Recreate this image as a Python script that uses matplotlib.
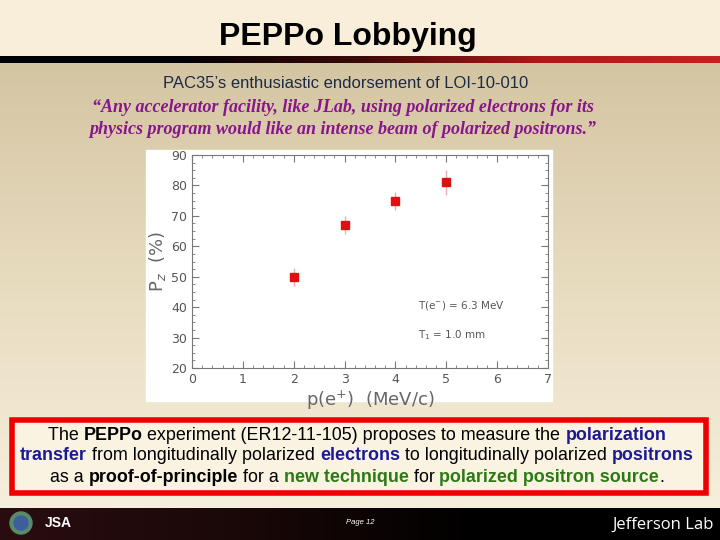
import numpy as np
import matplotlib.pyplot as plt
from matplotlib.patches import Rectangle, Circle
from matplotlib.colors import LinearSegmentedColormap

# data
momentum = [2, 3, 4, 5]            # p(e+) in MeV/c
polarization = [50, 67, 75, 81]    # P_z in %
pol_err = [3, 3, 3, 4]

x_ticks = [0, 1, 2, 3, 4, 5, 6, 7]
y_ticks = [20, 30, 40, 50, 60, 70, 80, 90]

W, H = 720, 540
fig = plt.figure(figsize=(7.2, 5.4), dpi=100)

# slide background
bg = fig.add_axes([0, 0, 1, 1])
bg.set_xlim(0, W)
bg.set_ylim(H, 0)
bg.axis('off')

body = LinearSegmentedColormap.from_list('body', ['#d4c5a2', '#e8dcc0', '#f6efdc'])
grad = np.linspace(0, 1, 256).reshape(-1, 1)
bg.imshow(grad, cmap=body, extent=[0, W, 508, 62], aspect='auto', zorder=0)
bg.add_patch(Rectangle((0, 0), W, 56, color='#f8eed9', zorder=1))

band = LinearSegmentedColormap.from_list('band', ['#000000', '#000000', '#3a0a08', '#b01818', '#c82020'])
bg.imshow(np.linspace(0, 1, 256).reshape(1, -1), cmap=band, extent=[0, W, 63, 56],
          aspect='auto', zorder=2)

foot = LinearSegmentedColormap.from_list('foot', ['#2a0d10', '#1a0808', '#000000', '#000000'])
bg.imshow(np.linspace(0, 1, 256).reshape(1, -1), cmap=foot, extent=[0, W, H, 508],
          aspect='auto', zorder=2)
bg.add_patch(Circle((21, 523), 11, color='#5a8a6a', zorder=3))
bg.add_patch(Circle((21, 523), 7, color='#3c5f9c', zorder=4))
bg.text(45, 523, 'JSA', color='white', fontsize=10, fontweight='bold', va='center',
        family='Liberation Sans', zorder=4)
bg.text(360, 523, 'Page 12', color='white', fontsize=5.5, style='italic', ha='center',
        va='center', family='Liberation Sans', zorder=4)
bg.text(714, 525, 'Jefferson Lab', color='white', fontsize=12, ha='right', va='center',
        family='Open Sans', zorder=4)

# titles
bg.text(348, 37, 'PEPPo Lobbying', fontsize=23, fontweight='bold', ha='center', va='center',
        family='Liberation Sans', color='black', zorder=3)
bg.text(346, 84, 'PAC35\u2019s enthusiastic endorsement of LOI-10-010', fontsize=12,
        ha='center', va='center', family='Liberation Sans', color='#1c2a48', zorder=3)
bg.text(343, 108, '\u201cAny accelerator facility, like JLab, using polarized electrons for its',
        fontsize=13, ha='center', va='center', family='Liberation Serif', style='italic',
        fontweight='bold', color='#86168a', zorder=3)
bg.text(343, 129, 'physics program would like an intense beam of polarized positrons.\u201d',
        fontsize=13, ha='center', va='center', family='Liberation Serif', style='italic',
        fontweight='bold', color='#86168a', zorder=3)

# white panel behind the plot
bg.add_patch(Rectangle((146, 150), 406, 251, color='white', zorder=3))

# red box with mixed-colour text
bg.add_patch(Rectangle((12, 420), 694, 73, facecolor='#fbf3e2', edgecolor='#ee0000',
                       linewidth=4, zorder=3))

navy = '#1a1a96'
green = '#2a7a16'
lines = [
    [('The ', 'normal', 'black'), ('PEPPo', 'bold', 'black'),
     (' experiment (ER12-11-105) proposes to measure the ', 'normal', 'black'),
     ('polarization', 'bold', navy)],
    [('transfer', 'bold', navy), (' from longitudinally polarized ', 'normal', 'black'),
     ('electrons', 'bold', navy), (' to longitudinally polarized ', 'normal', 'black'),
     ('positrons', 'bold', navy)],
    [('as a ', 'normal', 'black'), ('proof-of-principle', 'bold', 'black'),
     (' for a ', 'normal', 'black'), ('new technique', 'bold', green),
     (' for ', 'normal', 'black'), ('polarized positron source', 'bold', green),
     ('.', 'normal', 'black')],
]
line_y = [435, 456, 477]

fig.canvas.draw()
renderer = fig.canvas.get_renderer()
inv = bg.transData.inverted()
for parts, yy in zip(lines, line_y):
    texts = []
    for s, wt, col in parts:
        t = bg.text(0, yy, s, fontsize=12.9, fontweight=wt, color=col, va='center',
                    family='Liberation Sans', zorder=4)
        texts.append(t)
    widths = []
    for t in texts:
        ext = t.get_window_extent(renderer)
        x0 = inv.transform((ext.x0, 0))[0]
        x1 = inv.transform((ext.x1, 0))[0]
        widths.append(x1 - x0)
    x = 357 - sum(widths) / 2
    for t, w in zip(texts, widths):
        t.set_x(x)
        x += w

# the plot itself
ax = fig.add_axes([192 / W, 1 - 368 / H, (548 - 192) / W, (368 - 155) / H])
ax.set_facecolor('white')
ax.errorbar(momentum, polarization, yerr=pol_err, fmt='s', color='#dd1111', markersize=6,
            ecolor='#e8b0b0', elinewidth=1, capsize=0, zorder=3)
ax.set_xlim(0, 7)
ax.set_ylim(20, 90)
ax.set_xticks(x_ticks)
ax.set_yticks(y_ticks)
ax.set_xticks(np.arange(0, 7.01, 0.2), minor=True)
ax.set_yticks(np.arange(20, 90.01, 2.5), minor=True)
ax.tick_params(which='both', direction='in', top=True, right=True, colors='#777777',
               labelcolor='#555555', labelsize=9)
ax.tick_params(which='major', length=5)
ax.tick_params(which='minor', length=2.5)
for sp in ax.spines.values():
    sp.set_color('#777777')
    sp.set_linewidth(0.8)
ax.set_xlabel(r'p(e$^{+}$)  (MeV/c)', fontsize=13, color='#666666', labelpad=2)
ax.set_ylabel(r'P$_z$  (%)', fontsize=13, color='#666666', labelpad=2)
ax.text(4.45, 39.5, r'T(e$^{-}$) = 6.3 MeV', fontsize=7.5, color='#555555')
ax.text(4.45, 29.8, r'T$_1$ = 1.0 mm', fontsize=7.5, color='#555555')

fig.savefig('out.png', dpi=100)
